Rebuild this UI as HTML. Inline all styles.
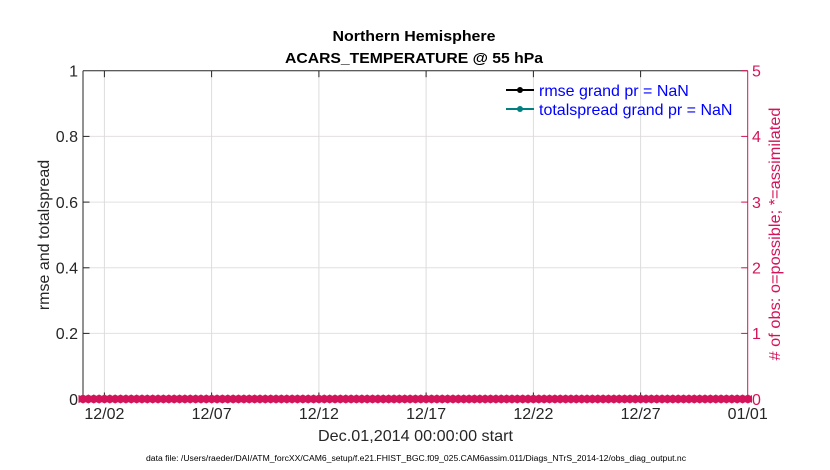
<!DOCTYPE html>
<html><head><meta charset="utf-8"><style>
html,body{margin:0;padding:0;background:#fff;}
svg{display:block;font-family:"Liberation Sans",Arial,sans-serif;}
</style></head><body>
<svg width="830" height="470" viewBox="0 0 830 470" xmlns="http://www.w3.org/2000/svg">
<defs>
<pattern id="mk" patternUnits="userSpaceOnUse" x="80.32" y="393" width="5.362" height="12">
<circle cx="2.68" cy="6" r="3.6" fill="#d4145a" stroke="#d4145a" stroke-width="1"/>
<line x1="2.68" y1="1.6" x2="2.68" y2="10.4" stroke="#d4145a" stroke-width="1.4"/>
</pattern>
</defs>
<rect width="830" height="470" fill="#fff"/>
<!-- grid -->
<g stroke="#e4dfe1" stroke-width="1">
<line x1="83" y1="136.4" x2="747.7" y2="136.4"/>
<line x1="83" y1="202.1" x2="747.7" y2="202.1"/>
<line x1="83" y1="267.8" x2="747.7" y2="267.8"/>
<line x1="83" y1="333.4" x2="747.7" y2="333.4"/>
</g>
<g stroke="#dcdcdc" stroke-width="1">
<line x1="104.4" y1="70.7" x2="104.4" y2="399"/>
<line x1="211.6" y1="70.7" x2="211.6" y2="399"/>
<line x1="318.9" y1="70.7" x2="318.9" y2="399"/>
<line x1="426.1" y1="70.7" x2="426.1" y2="399"/>
<line x1="533.4" y1="70.7" x2="533.4" y2="399"/>
<line x1="640.6" y1="70.7" x2="640.6" y2="399"/>
</g>
<!-- axes -->
<g stroke="#262626" stroke-width="1">
<line x1="83" y1="70.7" x2="747.7" y2="70.7"/>
<line x1="83" y1="399" x2="747.7" y2="399"/>
<line x1="83" y1="70.7" x2="83" y2="399"/>
<line x1="104.4" y1="399" x2="104.4" y2="392.5"/><line x1="104.4" y1="70.7" x2="104.4" y2="77.2"/>
<line x1="211.6" y1="399" x2="211.6" y2="392.5"/><line x1="211.6" y1="70.7" x2="211.6" y2="77.2"/>
<line x1="318.9" y1="399" x2="318.9" y2="392.5"/><line x1="318.9" y1="70.7" x2="318.9" y2="77.2"/>
<line x1="426.1" y1="399" x2="426.1" y2="392.5"/><line x1="426.1" y1="70.7" x2="426.1" y2="77.2"/>
<line x1="533.4" y1="399" x2="533.4" y2="392.5"/><line x1="533.4" y1="70.7" x2="533.4" y2="77.2"/>
<line x1="640.6" y1="399" x2="640.6" y2="392.5"/><line x1="640.6" y1="70.7" x2="640.6" y2="77.2"/>
<line x1="83" y1="136.4" x2="89.5" y2="136.4"/>
<line x1="83" y1="202.1" x2="89.5" y2="202.1"/>
<line x1="83" y1="267.8" x2="89.5" y2="267.8"/>
<line x1="83" y1="333.4" x2="89.5" y2="333.4"/>
</g>
<g stroke="#d4145a" stroke-width="1">
<line x1="747.7" y1="70.7" x2="747.7" y2="399"/>
<line x1="747.7" y1="70.7" x2="741.2" y2="70.7"/>
<line x1="747.7" y1="136.4" x2="741.2" y2="136.4"/>
<line x1="747.7" y1="202.1" x2="741.2" y2="202.1"/>
<line x1="747.7" y1="267.8" x2="741.2" y2="267.8"/>
<line x1="747.7" y1="333.4" x2="741.2" y2="333.4"/>
</g>
<!-- markers -->
<rect x="78.5" y="393" width="673.5" height="12" fill="url(#mk)"/>
<rect x="80" y="396.5" width="670" height="5" fill="#d4145a"/>
<!-- left tick labels -->
<g font-size="16" fill="#262626" text-anchor="end">
<text x="78" y="76.5">1</text>
<text x="78" y="142.2">0.8</text>
<text x="78" y="207.9">0.6</text>
<text x="78" y="273.6">0.4</text>
<text x="78" y="339.2">0.2</text>
<text x="78" y="404.8">0</text>
</g>
<!-- right tick labels -->
<g font-size="16" fill="#d4145a">
<text x="752" y="76.5">5</text>
<text x="752" y="142.2">4</text>
<text x="752" y="207.9">3</text>
<text x="752" y="273.6">2</text>
<text x="752" y="339.2">1</text>
<text x="752" y="404.8">0</text>
</g>
<!-- x tick labels -->
<g font-size="16" fill="#262626" text-anchor="middle">
<text x="104.4" y="419">12/02</text>
<text x="211.6" y="419">12/07</text>
<text x="318.9" y="419">12/12</text>
<text x="426.1" y="419">12/17</text>
<text x="533.4" y="419">12/22</text>
<text x="640.6" y="419">12/27</text>
<text x="747.7" y="419">01/01</text>
</g>
<!-- titles -->
<g font-size="15" font-weight="bold" fill="#000" text-anchor="middle">
<text x="414" y="41" textLength="163" lengthAdjust="spacingAndGlyphs">Northern Hemisphere</text>
<text x="414" y="63" textLength="258" lengthAdjust="spacingAndGlyphs">ACARS_TEMPERATURE @ 55 hPa</text>
</g>
<text x="415.5" y="441" font-size="16" fill="#262626" text-anchor="middle" textLength="195" lengthAdjust="spacingAndGlyphs">Dec.01,2014 00:00:00 start</text>
<text x="146" y="461" font-size="8" fill="#000" textLength="540" lengthAdjust="spacingAndGlyphs">data file: /Users/raeder/DAI/ATM_forcXX/CAM6_setup/f.e21.FHIST_BGC.f09_025.CAM6assim.011/Diags_NTrS_2014-12/obs_diag_output.nc</text>
<!-- y labels -->
<text transform="translate(49,235) rotate(-90)" font-size="16" fill="#262626" text-anchor="middle">rmse and totalspread</text>
<text transform="translate(780,234) rotate(-90)" font-size="16" fill="#d4145a" text-anchor="middle" textLength="253" lengthAdjust="spacingAndGlyphs"># of obs: o=possible; *=assimilated</text>
<!-- legend -->
<line x1="506" y1="90" x2="534" y2="90" stroke="#000" stroke-width="2"/>
<circle cx="520" cy="90" r="3" fill="#000"/>
<text x="539" y="96" font-size="16" fill="#0000ff">rmse grand pr = NaN</text>
<line x1="506" y1="109" x2="534" y2="109" stroke="#008080" stroke-width="2"/>
<circle cx="520" cy="109" r="3" fill="#008080"/>
<text x="539" y="115" font-size="16" fill="#0000ff">totalspread grand pr = NaN</text>
</svg>
</body></html>
